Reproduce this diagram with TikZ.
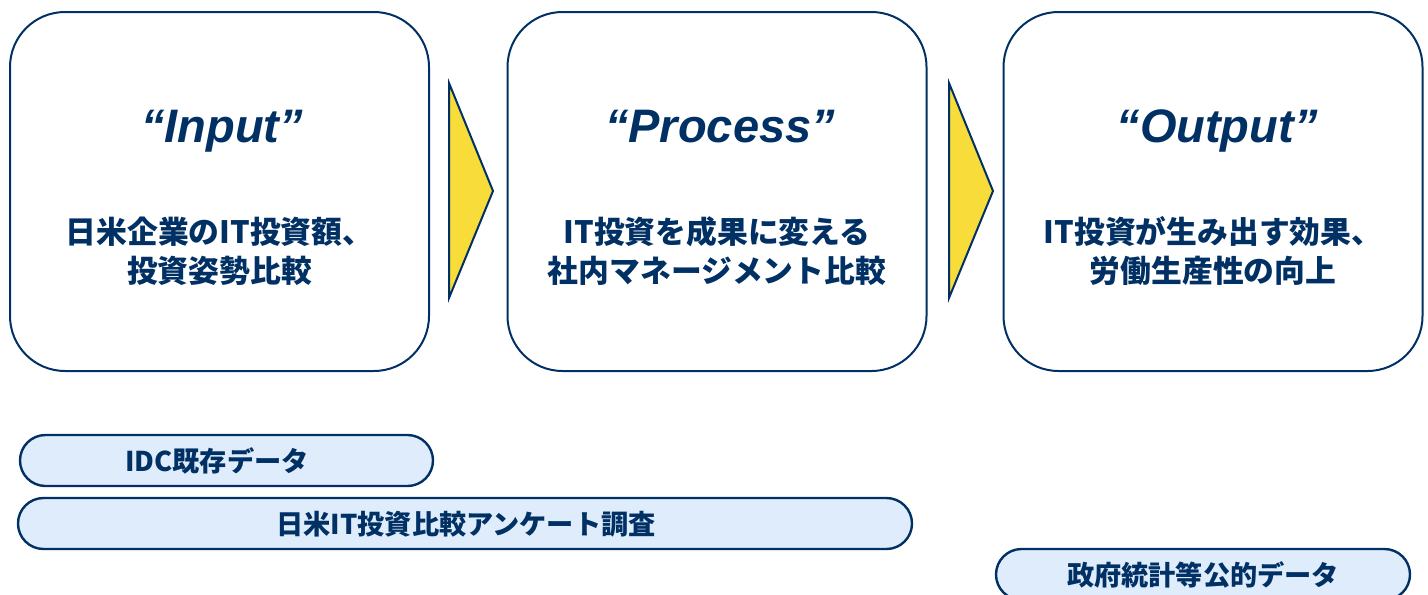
\documentclass[tikz,border=0pt]{standalone}
\usepackage{fontspec}
\setmainfont{Liberation Sans}
\newfontfamily\jp{Noto Sans CJK JP}
\usetikzlibrary{shapes.misc}
\definecolor{navy}{RGB}{0,48,100}
\definecolor{arrowyellow}{RGB}{247,220,58}
\definecolor{pillblue}{RGB}{223,236,252}
\tikzset{
  stagebox/.style={draw=navy, line width=1pt, fill=white, rounded corners=27.5pt,
    minimum width=209.5pt, minimum height=179.5pt, inner sep=0pt},
  stagetitle/.style={text=navy, font=\fontsize{23.5}{27}\selectfont\bfseries\itshape, anchor=base, inner sep=0pt},
  stagetext/.style={text=navy, font=\jp\bfseries\fontsize{15.4}{19.5}\selectfont, align=center, inner sep=0pt},
  chevron/.style={draw=navy, line width=1pt, fill=arrowyellow, line join=miter},
  pill/.style={draw=navy, line width=1.2pt, fill=pillblue, rounded rectangle,
    minimum height=25.5pt, inner sep=0pt},
  pilltext/.style={text=navy, font=\jp\bfseries\fontsize{13.6}{16}\selectfont, inner sep=0pt}
}
\begin{document}
\begin{tikzpicture}[x=0.5pt,y=-0.5pt]
\useasboundingbox (0,0) rectangle (1428,594);
% stage boxes
\node[stagebox] (in)  at (219.5,191.5) {};
\node[stagebox] (pro) at (717,191.5) {};
\node[stagebox] (out) at (1213,191.5) {};
% titles
\node[stagetitle] (inT)  at (222,142) {“Input”};
\node[stagetitle] (proT) at (720,142) {“Process”};
\node[stagetitle] (outT) at (1217,142) {“Output”};
% descriptions
\node[stagetext] (inD)  at (219.5,251) {日米企業のIT投資額、\\投資姿勢比較};
\node[stagetext] (proD) at (717,251) {IT投資を成果に変える\\社内マネージメント比較};
\node[stagetext] (outD) at (1213,251) {IT投資が生み出す効果、\\労働生産性の向上};
% chevrons
\draw[chevron] (449,83) -- (493,191) -- (449,298) -- cycle;
\draw[chevron] (949,83) -- (993,191) -- (949,298) -- cycle;
% data sources
\node[pill, minimum width=206.5pt] (idc) at (226.5,460.5) {};
\node[pilltext] (idcT) at (217,461) {IDC既存データ};
\node[pill, minimum width=447pt] (svy) at (465,523.5) {};
\node[pilltext] (svyT) at (466,524) {日米IT投資比較アンケート調査};
\node[pill, minimum width=207pt] (gov) at (1203,574.5) {};
\node[pilltext] (govT) at (1203,575) {政府統計等公的データ};
\end{tikzpicture}
\end{document}
